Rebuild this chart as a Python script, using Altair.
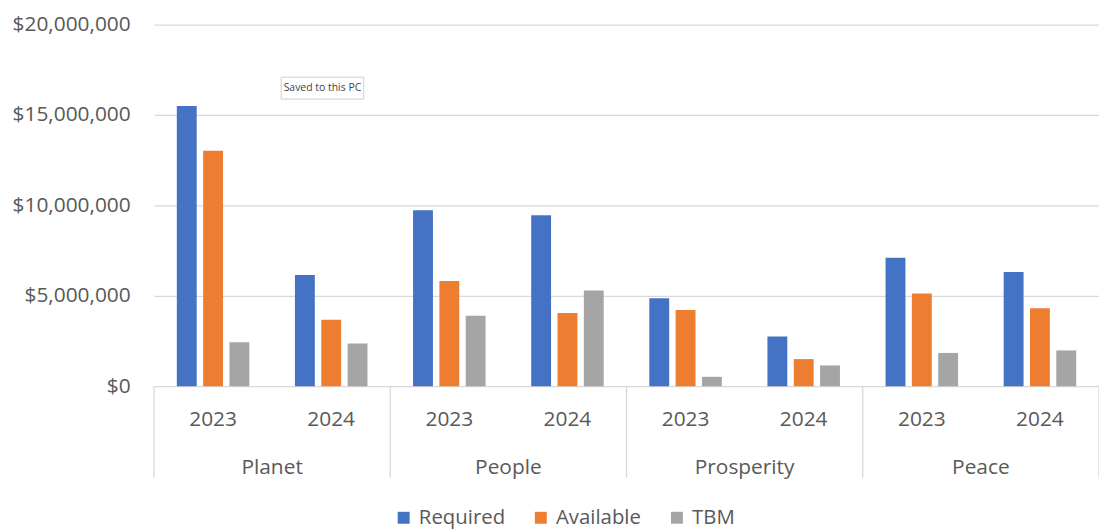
import altair as alt
import pandas as pd

categories = ["Planet", "People", "Prosperity", "Peace"]
years = ["2023", "2024"]
series = ["Required", "Available", "TBM"]
# values in order Planet 2023, Planet 2024, People 2023, People 2024, ...
required = [15490000, 6150000, 9730000, 9450000, 4860000, 2750000, 7110000, 6320000]
available = [13020000, 3680000, 5820000, 4050000, 4210000, 1500000, 5130000, 4310000]
tbm = [2430000, 2360000, 3900000, 5290000, 520000, 1150000, 1840000, 1980000]
colors = ["#4472C4", "#ED7D31", "#A5A5A5"]
y_ticks = [0, 5000000, 10000000, 15000000, 20000000]

FONT = "Open Sans"
GREY = "#595959"

rows = []
keys = []
for ci, c in enumerate(categories):
    for yi, yr in enumerate(years):
        k = f"{c}|{yr}"
        keys.append(k)
        idx = ci * 2 + yi
        for s, vals in zip(series, [required, available, tbm]):
            rows.append({"key": k, "series": s, "value": vals[idx]})
df = pd.DataFrame(rows)

xscale = alt.Scale(domain=keys, paddingInner=0, paddingOuter=0)

bars = alt.Chart(df).mark_bar().encode(
    x=alt.X("key:N", scale=xscale, axis=None),
    xOffset=alt.XOffset("series:N", scale=alt.Scale(domain=series, paddingInner=0.245, paddingOuter=0.866)),
    y=alt.Y("value:Q", scale=alt.Scale(domain=[0, 20000000], nice=False),
            axis=alt.Axis(values=y_ticks, format="$,.0f", title=None, domain=False, ticks=False,
                          labelPadding=24, labelFontSize=21, labelFont=FONT, labelColor=GREY,
                          gridColor="#d9d9d9", gridWidth=1.3)),
    color=alt.Color("series:N", scale=alt.Scale(domain=series, range=colors),
                    legend=alt.Legend(title=None, orient="none", legendX=241, legendY=486,
                                      direction="horizontal", symbolType="square", symbolSize=144,
                                      symbolStrokeWidth=0, labelFontSize=20.5, labelFont=FONT,
                                      labelColor=GREY, columnPadding=25, labelOffset=5)),
)

df_years = pd.DataFrame({"key": keys, "year": [k.split("|")[1] for k in keys]})
year_text = alt.Chart(df_years).mark_text(fontSize=21, font=FONT, color=GREY, baseline="middle").encode(
    x=alt.X("key:N", scale=xscale, axis=None), y=alt.value(398), text="year:N")

df_cats = pd.DataFrame({"key": [f"{c}|2023" for c in categories], "category": categories})
cat_text = alt.Chart(df_cats).mark_text(fontSize=21, font=FONT, color=GREY, baseline="middle").encode(
    x=alt.X("key:N", scale=xscale, axis=None, bandPosition=1), y=alt.value(446), text="category:N")

sep = alt.Chart(df_cats).mark_rule(color="#d9d9d9", strokeWidth=1.3).encode(
    x=alt.X("key:N", scale=xscale, axis=None, bandPosition=0), y=alt.value(364), y2=alt.value(456))
sep_end = alt.Chart(pd.DataFrame({"key": [keys[-1]]})).mark_rule(color="#d9d9d9", strokeWidth=1.3).encode(
    x=alt.X("key:N", scale=xscale, axis=None, bandPosition=1), y=alt.value(364), y2=alt.value(456))

note = pd.DataFrame({"label": ["Saved to this PC"]})
note_box = alt.Chart(note).mark_rect(fill="white", stroke="#cfcfcf", strokeWidth=1).encode(
    x=alt.value(128), x2=alt.value(211), y=alt.value(53), y2=alt.value(75))
note_text = alt.Chart(note).mark_text(fontSize=10.5, font=FONT, color="#444444", baseline="middle").encode(
    x=alt.value(169.5), y=alt.value(64), text="label:N")

chart = alt.layer(bars, sep, sep_end, year_text, cat_text, note_box, note_text).properties(
    width=951, height=364,
    padding={"left": 155, "top": 23, "right": 0, "bottom": 142},
    autosize=alt.AutoSizeParams(type="none"),
    background="white",
).configure_view(stroke=None)

chart.save("out.html", embed_options={"renderer": "svg", "actions": False})
